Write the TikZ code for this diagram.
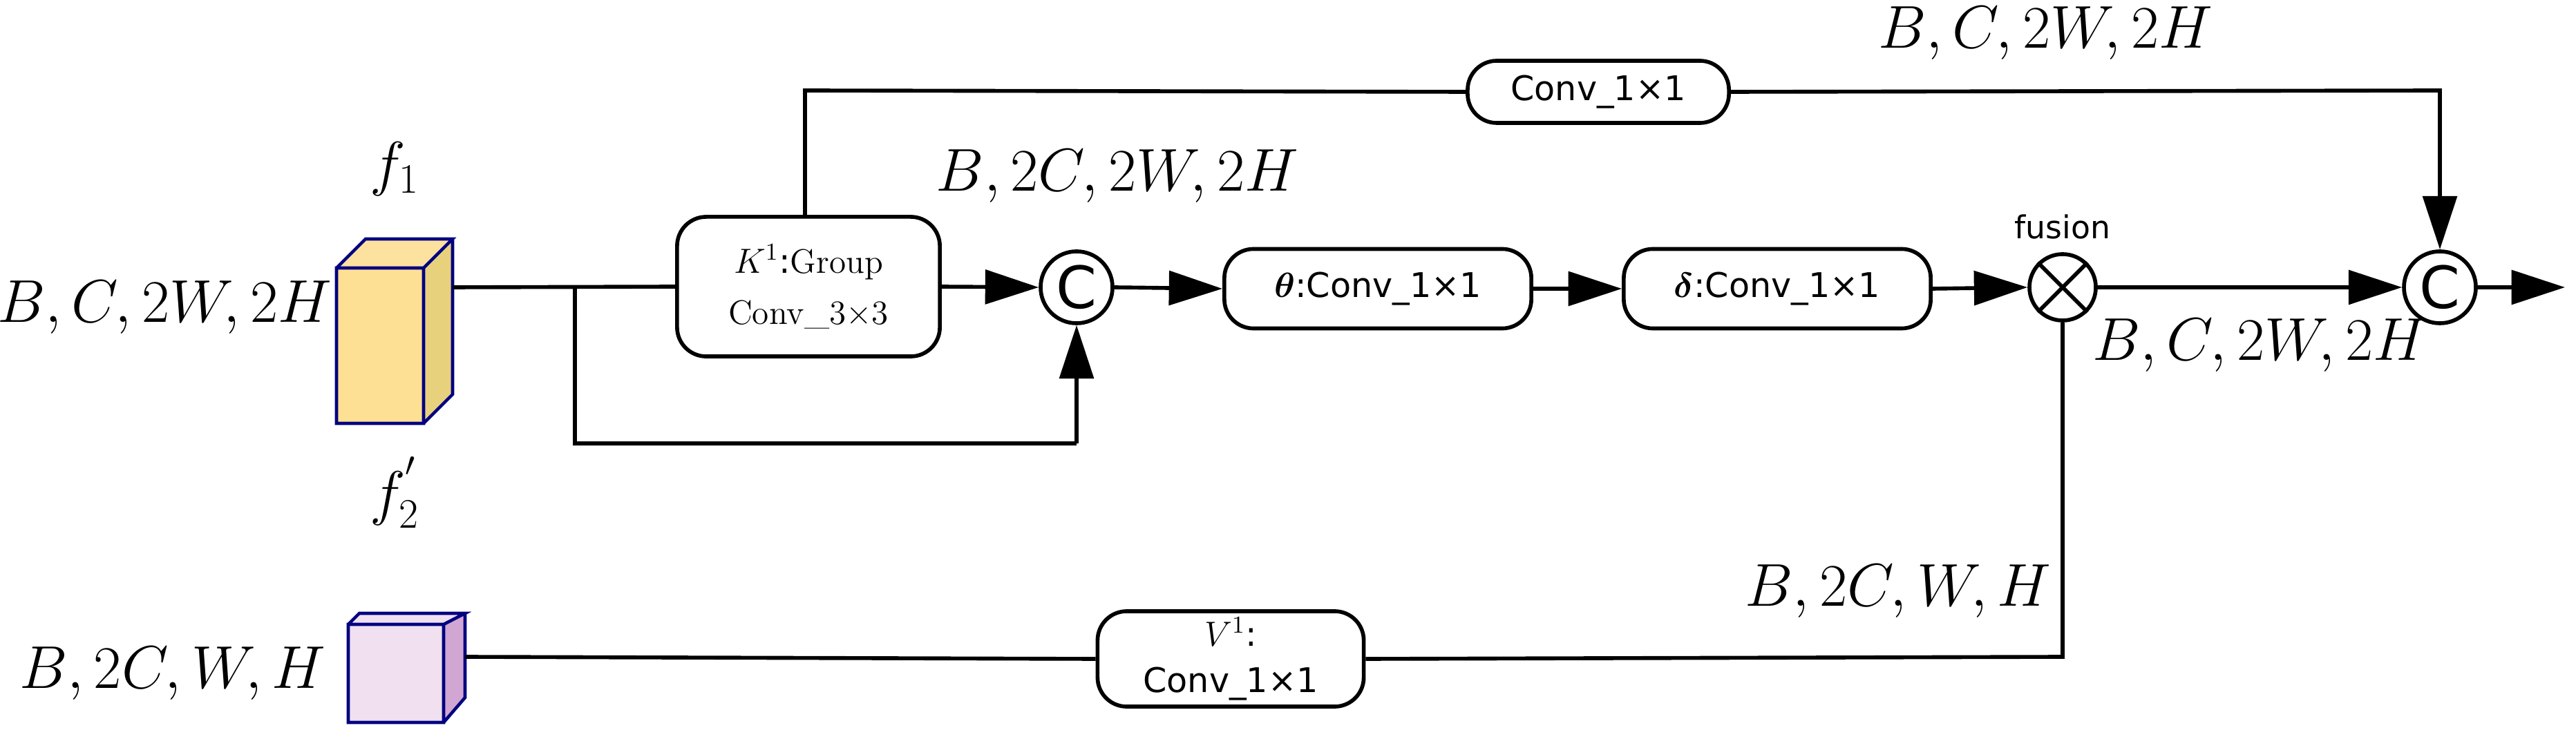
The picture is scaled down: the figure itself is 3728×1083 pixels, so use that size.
\documentclass[tikz,border=0pt]{standalone}
\usepackage{amsmath,bm}
\usepackage{fontspec}
\setsansfont{DejaVu Sans}
\usetikzlibrary{arrows.meta}
\begin{document}
\begin{tikzpicture}[x=0.01cm,y=-0.01cm,
  box/.style={draw,line width=1.6pt,rounded corners=12pt,font=\sffamily\fontsize{14}{17}\selectfont,align=center,inner sep=0pt},
  cir/.style={draw,circle,line width=1.6pt,minimum size=10.4mm,inner sep=0pt},
  lbl/.style={font=\fontsize{27}{30}\selectfont},
  ln/.style={line width=1.6pt},
  ar/.style={ln,-{Triangle[length=22pt,width=14pt]}}]
\useasboundingbox (0,0) rectangle (3728,1083);
% cube f1
\fill[yellow!45!orange!40] (487,388) rectangle (613,613);
\fill[yellow!40!orange!35] (487,388) -- (529,346) -- (655,346) -- (613,388) -- cycle;
\fill[brown!60!yellow!60] (613,388) -- (655,346) -- (655,571) -- (613,613) -- cycle;
\draw[blue!50!black,line width=1.3pt] (487,388) rectangle (613,613) (487,388) -- (529,346) -- (655,346) -- (613,388) (655,346) -- (655,571) -- (613,613);
\coordinate (f1r) at (655,416);
% cube f2
\fill[violet!12] (504,904) rectangle (642,1046);
\fill[violet!12] (504,904) -- (520,888) -- (673,888) -- (642,904) -- cycle;
\fill[violet!35] (642,904) -- (673,888) -- (673,1010) -- (642,1046) -- cycle;
\draw[blue!50!black,line width=1.3pt] (504,904) rectangle (642,1046) (504,904) -- (520,888) -- (673,888) -- (642,904) (673,888) -- (673,1010) -- (642,1046);
\coordinate (f2r) at (673,951);
% labels
\node[lbl] at (571,245) {$f_1$};
\node[lbl] at (571,713) {$f_2^{'}$};
\node[lbl] at (238,445) {$B,C,2W,2H$};
\node[lbl] at (250,975) {$B,2C,W,H$};
\node[lbl] at (1617,255) {$B,2C,2W,2H$};
\node[lbl] at (2960,48) {$B,C,2W,2H$};
\node[lbl,font=\fontsize{24}{26}\selectfont] at (3270,500) {$B,C,2W,2H$};
\node[lbl] at (2747,856) {$B,2C,W,H$};
% boxes
\node[box,minimum width=38mm,minimum height=20.2mm] (K) at (1170,415) {$K^1$:{\rmfamily Group}\\[4pt]{\rmfamily Conv\_3×3}};
\node[box,minimum width=37.8mm,minimum height=9mm] (top) at (2313,133) {Conv\_1×1};
\node[box,minimum width=44.4mm,minimum height=11.5mm] (th) at (1994,418) {$\bm{\theta}$:Conv\_1×1};
\node[box,minimum width=44.4mm,minimum height=11.5mm] (de) at (2572,418) {$\bm{\delta}$:Conv\_1×1};
\node[box,minimum width=38.5mm,minimum height=13.8mm] (V) at (1781,954) {$V^1$:\\[2pt]Conv\_1×1};
\node[cir] (c1) at (1558,416) {\sffamily\fontsize{24}{24}\selectfont C};
\node[cir] (c2) at (3531,416) {\sffamily\fontsize{24}{24}\selectfont C};
\node[cir,minimum size=9.6mm] (fu) at (2985,416) {};
\draw[ln] (fu.north west) -- (fu.south east) (fu.north east) -- (fu.south west);
\node[font=\sffamily\fontsize{13}{15}\selectfont] at (2985,328) {fusion};
\coordinate (out) at (3712,416);
\coordinate (br) at (832,416);
\coordinate (brd) at (832,642);
\coordinate (cd) at (1558,642);
\coordinate (tl) at (1165,131);
\coordinate (tr) at (3531,131);
\coordinate (fd) at (2985,951);
% connectors
\draw[ln] (f1r) -- (K.west);
\draw[ln] (br) -- (brd) -- (cd);
\draw[ar] (cd) -- (c1.south);
\draw[ar] (K.east) -- (c1.west);
\draw[ar] (c1.east) -- (th.west);
\draw[ar] (th.east) -- (de.west);
\draw[ar] (de.east) -- (fu.west);
\draw[ar] (fu.east) -- (c2.west);
\draw[ar] (c2.east) -- (out);
\draw[ln] (K.north -| tl) -- (tl) -- (top.west);
\draw[ar] (top.east) -- (tr) -- (c2.north);
\draw[ln] (fu.south) -- (fd) -- (V.east);
\draw[ln] (V.west) -- (f2r);
\end{tikzpicture}
\end{document}
